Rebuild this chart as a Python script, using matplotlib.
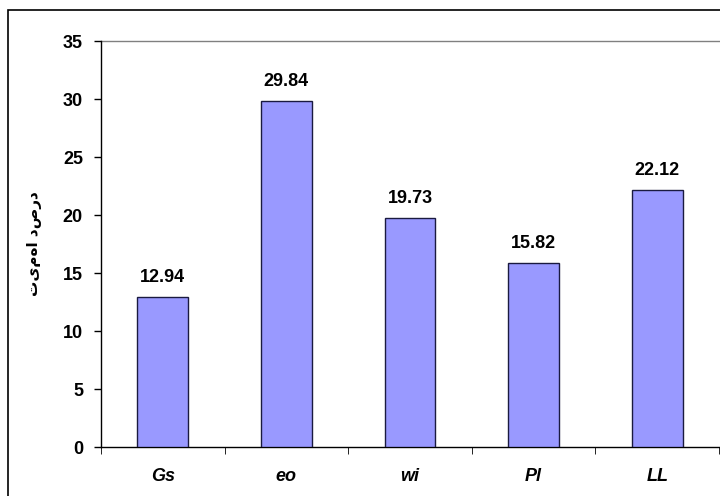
import matplotlib
matplotlib.use("Agg")
import matplotlib.pyplot as plt
from matplotlib.patches import Rectangle

categories = ["Gs", "eo", "wi", "Pl", "LL"]
values = [12.94, 29.84, 19.73, 15.82, 22.12]
yticks = [0, 5, 10, 15, 20, 25, 30, 35]
ylabel = "تیمها دصرد"

plt.rcParams['font.family'] = ['Liberation Sans', 'DejaVu Sans']

fig = plt.figure(figsize=(7.2, 4.96), dpi=100)
ax = fig.add_axes([101/720, 1-447/496, 618/720, 406/496])

x = list(range(len(categories)))
ax.bar(x, values, width=0.41, color="#9999FF", edgecolor="#1a1a40", linewidth=1.0, zorder=3)
for xi, v in zip(x, values):
    ax.annotate(f"{v:.2f}", (xi, v), xytext=(0, 8), textcoords="offset points",
                ha="center", va="bottom", fontsize=13, fontweight="bold")

ax.set_xlim(-0.5, len(categories) - 0.5)
ax.set_ylim(0, 35)
ax.set_yticks(yticks)
ax.set_yticklabels([str(t) for t in yticks], fontsize=13, fontweight="bold")
ax.set_xticks(x)
ax.set_xticklabels(categories, fontsize=13, fontweight="bold", style="italic")
ax.tick_params(axis="x", length=0, pad=15)
ax.set_xticks([i - 0.5 for i in range(len(categories) + 1)], minor=True)
ax.tick_params(axis="x", which="minor", length=5, direction="out", color="black")
ax.tick_params(axis="y", length=5, direction="out", width=1, pad=8)

ax.spines["top"].set_visible(False)
ax.spines["right"].set_visible(False)
ax.spines["left"].set_linewidth(1.0)
ax.spines["bottom"].set_linewidth(1.0)
ax.axhline(35, color="#808080", linewidth=1.0, zorder=1, clip_on=False)

ax.set_ylabel(ylabel, fontsize=11, fontweight="bold", family=["DejaVu Sans"], rotation=90, labelpad=15)

fig.patches.append(Rectangle((8/720, -0.1), 1.0, 1 - 10/496 + 0.1, transform=fig.transFigure,
                             fill=False, edgecolor="black", linewidth=1.2))

fig.savefig("out.png", dpi=100)
